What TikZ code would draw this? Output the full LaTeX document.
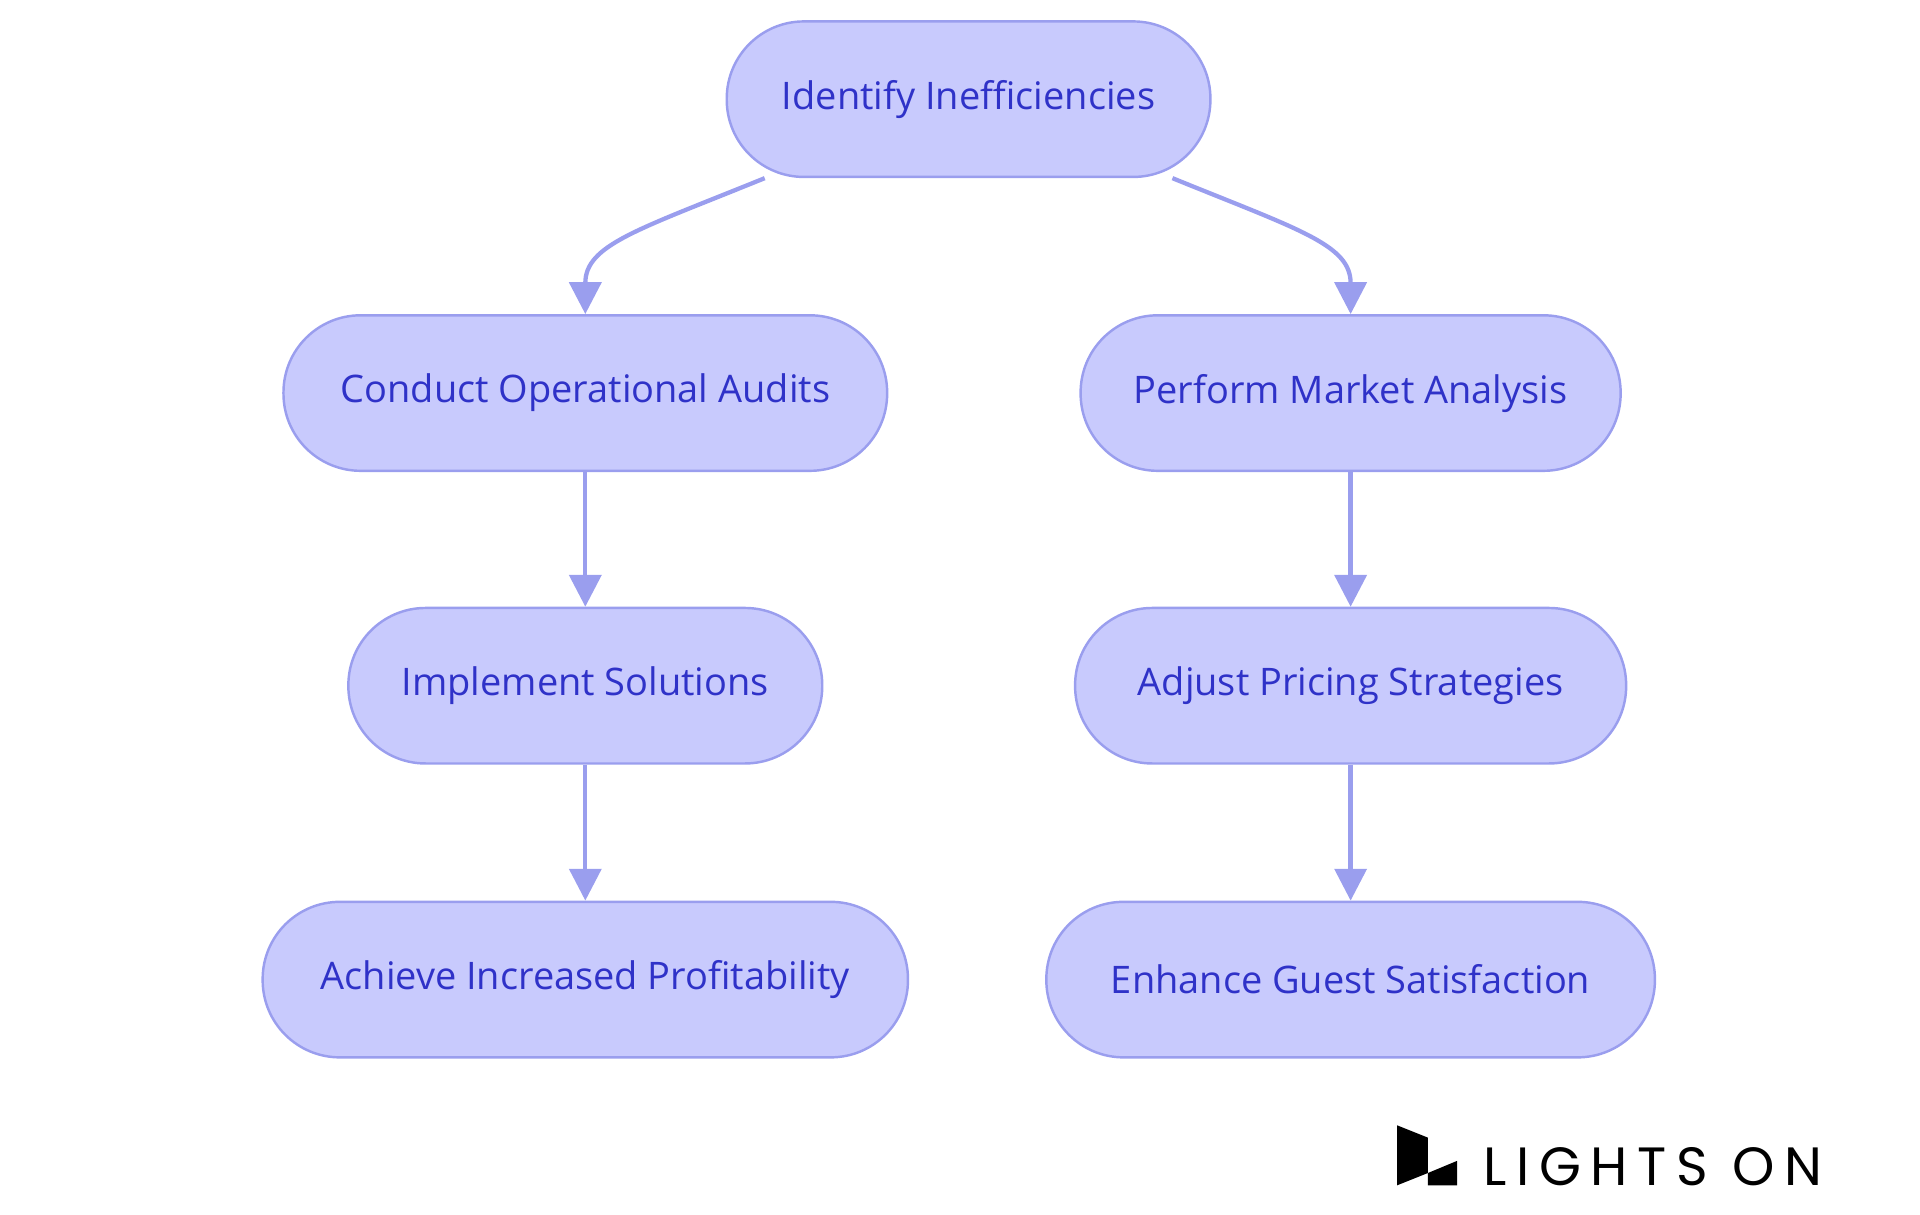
\documentclass[tikz,border=0pt]{standalone}
\usepackage{fontspec}
\setmainfont{Open Sans}
\newfontfamily\logofont[LetterSpace=18]{Poppins}
\usetikzlibrary{arrows.meta}
\definecolor{boxfill}{HTML}{C8CAFD}
\definecolor{boxline}{HTML}{9A9EEE}
\definecolor{txt}{HTML}{2F32C8}
\tikzset{
  pill/.style={draw=boxline, fill=boxfill, line width=2pt, rounded corners=63pt,
    minimum height=127pt, inner sep=0pt, text=txt, font=\fontsize{31}{36}\selectfont},
  arr/.style={draw=boxline, line width=3.5pt, -{Triangle[length=26pt,width=26pt]}}
}
\begin{document}
\begin{tikzpicture}[x=1pt,y=-1pt]
\useasboundingbox (0,0) rectangle (1568,992);
\node[pill, minimum width=395pt] (id) at (791,81) {Identify Inefficiencies};
\node[pill, minimum width=493pt] (ca) at (478,321) {Conduct Operational Audits};
\node[pill, minimum width=441pt] (pm) at (1103,321) {Perform Market Analysis};
\node[pill, minimum width=387pt] (is) at (478,560) {Implement Solutions};
\node[pill, minimum width=450pt] (ap) at (1103,560) {Adjust Pricing Strategies};
\node[pill, minimum width=527pt] (ai) at (478,800) {Achieve Increased Profitability};
\node[pill, minimum width=497pt] (eg) at (1103,800) {Enhance Guest Satisfaction};
\draw[arr] ([xshift=32pt]id.south west) .. controls (520,188) and (478,200) .. (ca.north);
\draw[arr] ([xshift=-32pt]id.south east) .. controls (1062,188) and (1103,200) .. (pm.north);
\draw[arr] (ca) -- (is);
\draw[arr] (is) -- (ai);
\draw[arr] (pm) -- (ap);
\draw[arr] (ap) -- (eg);
\fill[black] (1141,919) -- (1166,929) -- (1166,958) -- (1141,968) -- cycle;
\fill[black] (1166,958) -- (1190,948) -- (1190,968) -- (1166,968) -- cycle;
\node[anchor=base west, inner sep=0pt, font=\logofont\fontsize{44}{44}\selectfont] (logo) at (1211,968) {LIGHTS ON};
\end{tikzpicture}
\end{document}
